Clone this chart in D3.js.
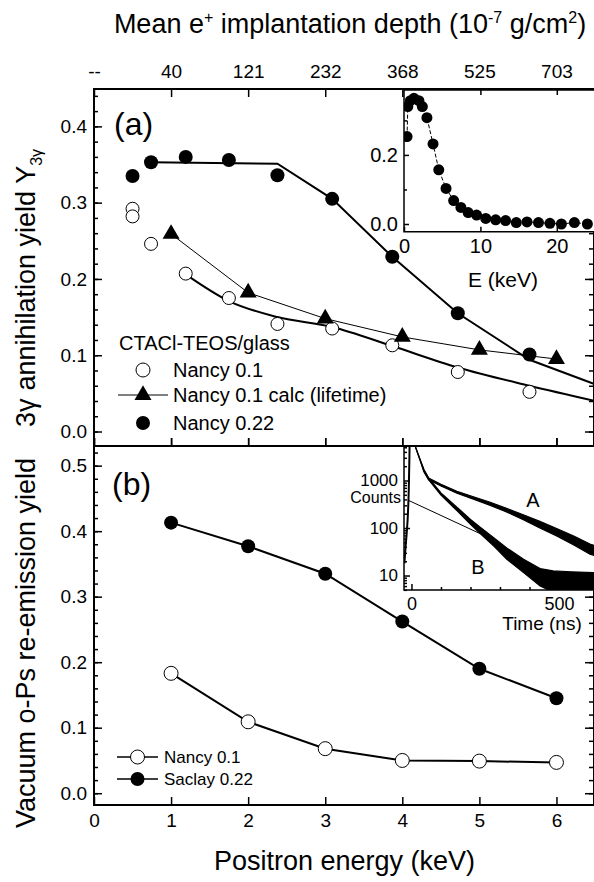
<!DOCTYPE html>
<html>
<head>
<meta charset="utf-8">
<script src="https://cdn.jsdelivr.net/npm/d3@7"></script>
<style>
  body { margin: 0; background: #fff; }
  text { font-family: "Liberation Sans", Arial, Helvetica, sans-serif; }
</style>
</head>
<body>
<div id="chart-area"></div>
<script>
// energy axis (shared) and top axis labels
var energyTicks = [0, 1, 2, 3, 4, 5, 6]
var depthLabels = ["--", "40", "121", "232", "368", "525", "703"]

// panel (a) : 3 gamma yield
var nancy01E = [0.5, 0.5, 0.74, 1.19, 1.75, 2.38, 3.09, 3.87, 4.72, 5.65]
var nancy01Y = [0.292, 0.282, 0.246, 0.207, 0.175, 0.141, 0.135, 0.113, 0.078, 0.052]
var nancy01FitE = [1.19, 1.75, 2.38, 3.09, 3.87, 4.72, 5.65, 6.5]
var nancy01FitY = [0.206, 0.171, 0.150, 0.137, 0.112, 0.084, 0.060, 0.040]
var calcE = [1, 2, 3, 4, 5, 6]
var calcY = [0.259, 0.182, 0.148, 0.124, 0.107, 0.095]
var nancy022E = [0.5, 0.74, 1.19, 1.75, 2.38, 3.09, 3.87, 4.72, 5.65]
var nancy022Y = [0.335, 0.353, 0.360, 0.356, 0.336, 0.305, 0.229, 0.155, 0.101]
var nancy022LineE = [0.74, 2.38, 3.09, 3.87, 4.72, 5.65, 6.5]
var nancy022LineY = [0.353, 0.351, 0.305, 0.229, 0.155, 0.094, 0.062]

// inset (a) : full energy scan
var insetE = [0.4, 0.5, 0.83, 1.3, 1.95, 2.4, 3.0, 3.8, 4.55, 5.5, 6.5, 7.45, 8.4, 9.5, 10.7, 12.0, 13.3, 14.7, 16.1, 17.6, 19.1, 20.6, 22.3, 24.0]
var insetY = [0.253, 0.340, 0.357, 0.364, 0.357, 0.340, 0.308, 0.232, 0.157, 0.103, 0.068, 0.048, 0.033, 0.026, 0.016, 0.012, 0.010, 0.004, 0.006, 0.004, 0.002, 0.000, 0.004, 0.000]

// panel (b) : re-emission yield
var bE = [1, 2, 3, 4, 5, 6]
var nancyB = [0.183, 0.109, 0.068, 0.050, 0.049, 0.047]
var saclayB = [0.413, 0.377, 0.335, 0.262, 0.190, 0.145]

// inset (b) : lifetime spectra (noise band read as low / high envelope)
var promptT = [-24, -20, -16, -12, -9, -7, -6]
var promptC = [18, 40, 80, 200, 700, 3000, 8000]
var specAT = [10, 14, 30, 42, 58, 100, 154, 210, 267, 320, 379, 435, 492, 550, 605, 625]
var specALo = [9000, 4950, 2600, 1550, 1040, 770, 540, 405, 300, 220, 150, 100, 68, 44, 28, 26]
var specAHi = [9000, 5000, 2660, 1700, 1130, 830, 595, 455, 348, 262, 190, 138, 98, 68, 46, 42]
var specBT = [10, 14, 30, 42, 58, 100, 154, 200, 233, 280, 323, 380, 436, 480, 540, 625]
var specBLo = [9000, 4950, 2600, 1550, 1040, 490, 232, 120, 76, 41, 22, 11.5, 6, 4.5, 4, 4]
var specBHi = [9000, 5000, 2660, 1700, 1130, 550, 275, 152, 104, 62, 38, 22, 14, 12.5, 12, 11.5]
var fitT = [-9, 233]
var fitC = [379, 76]

var W = 594, H = 882
var font = "'Liberation Sans', Arial, Helvetica, sans-serif"

var svg = d3.select("#chart-area").append("svg")
  .attr("width", W)
  .attr("height", H)

var pLeft = 94, pRight = 595, pTop = 89, pMid = 446, pBottom = 805

var x = d3.scaleLinear().domain([0, 6.5]).range([pLeft, pRight])
var ya = d3.scaleLinear().domain([-0.019, 0.449]).range([pMid, pTop])
var yb = d3.scaleLinear().domain([-0.018, 0.53]).range([pBottom, pMid])

function zip(a, b) { return a.map(function (d, i) { return [d, b[i]] }) }

function styleAxis(g, size) {
  g.select(".domain").remove()
  g.selectAll("line").attr("stroke", "#000").attr("stroke-width", 1.5)
  g.selectAll("text").attr("font-family", font).attr("font-size", size).attr("fill", "#000")
}

function steps(a, b, s) { var r = []; for (var v = a; v <= b + 1e-9; v += s) r.push(+v.toFixed(4)); return r }

// ---- y axes
function yAxes(y, maxMajor, maxMinor) {
  var majors = steps(0, maxMajor, 0.1)
  var minors = steps(0, maxMinor, 0.02)
  svg.append("g").attr("transform", "translate(" + pLeft + ",0)")
    .call(d3.axisLeft(y).tickValues(minors).tickSize(-4).tickFormat(""))
    .call(styleAxis, 19)
  svg.append("g").attr("transform", "translate(" + pLeft + ",0)")
    .call(d3.axisLeft(y).tickValues(majors).tickSize(-8).tickPadding(7).tickFormat(d3.format(".1f")))
    .call(styleAxis, 19)
  svg.append("g").attr("transform", "translate(" + (pRight - 2) + ",0)")
    .call(d3.axisRight(y).tickValues(minors).tickSize(-4).tickFormat(""))
    .call(styleAxis, 19)
  svg.append("g").attr("transform", "translate(" + (pRight - 2) + ",0)")
    .call(d3.axisRight(y).tickValues(majors).tickSize(-8).tickFormat(""))
    .call(styleAxis, 19)
}
yAxes(ya, 0.4, 0.44)
yAxes(yb, 0.5, 0.52)

// ---- x axes
svg.append("g").attr("transform", "translate(0," + pTop + ")")
  .call(d3.axisTop(x).tickValues(energyTicks).tickSize(-8).tickPadding(11)
    .tickFormat(function (d) { return depthLabels[d] }))
  .call(styleAxis, 19)
svg.append("g").attr("transform", "translate(0," + pMid + ")")
  .call(d3.axisTop(x).tickValues(energyTicks).tickSize(8).tickFormat(""))
  .call(styleAxis, 19)
svg.append("g").attr("transform", "translate(0," + pMid + ")")
  .call(d3.axisBottom(x).tickValues(energyTicks).tickSize(-8).tickFormat(""))
  .call(styleAxis, 19)
svg.append("g").attr("transform", "translate(0," + pBottom + ")")
  .call(d3.axisBottom(x).tickValues(energyTicks).tickSize(-8).tickPadding(9).tickFormat(d3.format("d")))
  .call(styleAxis, 19)

// frame
svg.append("path")
  .attr("d", "M" + pLeft + "," + pTop + "H" + (pRight - 1) + "V" + pBottom + "H" + pLeft + "Z M" + pLeft + "," + pMid + "H" + (pRight - 1))
  .attr("fill", "none").attr("stroke", "#000").attr("stroke-width", 2)

// clip
var defs = svg.append("defs")
defs.append("clipPath").attr("id", "clipA").append("rect")
  .attr("x", pLeft).attr("y", pTop).attr("width", pRight - pLeft).attr("height", pMid - pTop)
defs.append("clipPath").attr("id", "clipB").append("rect")
  .attr("x", pLeft).attr("y", pMid).attr("width", pRight - pLeft).attr("height", pBottom - pMid)

// ---- panel (a) data
var gA = svg.append("g").attr("clip-path", "url(#clipA)")
var lineA = d3.line().x(function (d) { return x(d[0]) }).y(function (d) { return ya(d[1]) })

gA.append("path").datum(zip(nancy01FitE, nancy01FitY))
  .attr("d", lineA.curve(d3.curveMonotoneX)).attr("fill", "none").attr("stroke", "#000").attr("stroke-width", 2)
lineA.curve(d3.curveLinear)
gA.append("path").datum(zip(nancy022LineE, nancy022LineY))
  .attr("d", lineA).attr("fill", "none").attr("stroke", "#000").attr("stroke-width", 2)
gA.append("path").datum(zip(calcE, calcY))
  .attr("d", lineA).attr("fill", "none").attr("stroke", "#000").attr("stroke-width", 1)

gA.selectAll(".o1").data(zip(nancy01E, nancy01Y)).enter().append("circle")
  .attr("cx", function (d) { return x(d[0]) }).attr("cy", function (d) { return ya(d[1]) })
  .attr("r", 6.5).attr("fill", "#fff").attr("stroke", "#000").attr("stroke-width", 1)
var tri = d3.symbol().type(d3.symbolTriangle).size(125)
gA.selectAll(".tri").data(zip(calcE, calcY)).enter().append("path")
  .attr("d", tri).attr("transform", function (d) { return "translate(" + x(d[0]) + "," + ya(d[1]) + ")" })
  .attr("fill", "#000")
gA.selectAll(".f1").data(zip(nancy022E, nancy022Y)).enter().append("circle")
  .attr("cx", function (d) { return x(d[0]) }).attr("cy", function (d) { return ya(d[1]) })
  .attr("r", 7).attr("fill", "#000")

// legend (a)
svg.append("text").attr("x", 119).attr("y", 350).attr("font-size", 20).text("CTACl-TEOS/glass")
svg.append("circle").attr("cx", 143).attr("cy", 370).attr("r", 7).attr("fill", "#fff").attr("stroke", "#000")
svg.append("text").attr("x", 173).attr("y", 377).attr("font-size", 20).text("Nancy 0.1")
svg.append("line").attr("x1", 118).attr("x2", 168).attr("y1", 395).attr("y2", 395).attr("stroke", "#000")
svg.append("path").attr("d", tri).attr("transform", "translate(143,395)").attr("fill", "#000")
svg.append("text").attr("x", 173).attr("y", 402).attr("font-size", 20).text("Nancy 0.1 calc (lifetime)")
svg.append("circle").attr("cx", 143).attr("cy", 423).attr("r", 7).attr("fill", "#000")
svg.append("text").attr("x", 173).attr("y", 430).attr("font-size", 20).text("Nancy 0.22")

svg.append("text").attr("x", 114).attr("y", 135).attr("font-size", 32).text("(a)")
svg.append("text").attr("x", 112).attr("y", 495).attr("font-size", 32).text("(b)")

// ---- panel (b) data
var gB = svg.append("g").attr("clip-path", "url(#clipB)")
var lineB = d3.line().x(function (d) { return x(d[0]) }).y(function (d) { return yb(d[1]) })
gB.append("path").datum(zip(bE, nancyB)).attr("d", lineB).attr("fill", "none").attr("stroke", "#000").attr("stroke-width", 2)
gB.append("path").datum(zip(bE, saclayB)).attr("d", lineB).attr("fill", "none").attr("stroke", "#000").attr("stroke-width", 2)
gB.selectAll(".o2").data(zip(bE, nancyB)).enter().append("circle")
  .attr("cx", function (d) { return x(d[0]) }).attr("cy", function (d) { return yb(d[1]) })
  .attr("r", 7).attr("fill", "#fff").attr("stroke", "#000").attr("stroke-width", 1)
gB.selectAll(".f2").data(zip(bE, saclayB)).enter().append("circle")
  .attr("cx", function (d) { return x(d[0]) }).attr("cy", function (d) { return yb(d[1]) })
  .attr("r", 7).attr("fill", "#000")

// legend (b)
svg.append("line").attr("x1", 117).attr("x2", 158).attr("y1", 757).attr("y2", 757).attr("stroke", "#000").attr("stroke-width", 1.5)
svg.append("circle").attr("cx", 137.5).attr("cy", 757).attr("r", 7).attr("fill", "#fff").attr("stroke", "#000")
svg.append("text").attr("x", 164).attr("y", 763).attr("font-size", 17).text("Nancy 0.1")
svg.append("line").attr("x1", 117).attr("x2", 158).attr("y1", 779).attr("y2", 779).attr("stroke", "#000").attr("stroke-width", 1.5)
svg.append("circle").attr("cx", 137.5).attr("cy", 779).attr("r", 7).attr("fill", "#000")
svg.append("text").attr("x", 164).attr("y", 785).attr("font-size", 17).text("Saclay 0.22")

// ---- inset (a)
var iaL = 404, iaT = 90, iaB = 231.7
var xi = d3.scaleLinear().domain([0, 25]).range([iaL, 595])
var yi = d3.scaleLinear().domain([-0.0223, 0.388]).range([iaB, iaT])
svg.append("rect").attr("x", iaL).attr("y", iaT).attr("width", 595 - iaL).attr("height", iaB - iaT).attr("fill", "#fff")
defs.append("clipPath").attr("id", "clipIA").append("rect")
  .attr("x", iaL).attr("y", iaT).attr("width", 595 - iaL).attr("height", iaB - iaT)
svg.append("g").attr("transform", "translate(" + iaL + ",0)")
  .call(d3.axisLeft(yi).tickValues([0, 0.2]).tickSize(-5).tickPadding(6).tickFormat(d3.format(".1f")))
  .call(styleAxis, 20)
svg.append("g").attr("transform", "translate(" + iaL + ",0)")
  .call(d3.axisLeft(yi).tickValues([0.1, 0.3]).tickSize(-3).tickFormat(""))
  .call(styleAxis, 20)
svg.append("g").attr("transform", "translate(0," + iaB + ")")
  .call(d3.axisBottom(xi).tickValues([0, 10, 20]).tickSize(-5).tickPadding(7).tickFormat(d3.format("d")))
  .call(styleAxis, 20)
svg.append("g").attr("transform", "translate(0," + iaT + ")")
  .call(d3.axisTop(xi).tickValues([10, 20]).tickSize(-5).tickFormat(""))
  .call(styleAxis, 20)
svg.append("path").attr("d", "M595," + iaT + "H" + iaL + "V" + iaB + "H595")
  .attr("fill", "none").attr("stroke", "#000").attr("stroke-width", 1.5)
var gIA = svg.append("g").attr("clip-path", "url(#clipIA)")
gIA.append("path").datum(zip(insetE, insetY))
  .attr("d", d3.line().x(function (d) { return xi(d[0]) }).y(function (d) { return yi(d[1]) }))
  .attr("fill", "none").attr("stroke", "#000").attr("stroke-width", 1).attr("stroke-dasharray", "4,2")
gIA.selectAll("circle").data(zip(insetE, insetY)).enter().append("circle")
  .attr("cx", function (d) { return xi(d[0]) }).attr("cy", function (d) { return yi(d[1]) })
  .attr("r", 5.5).attr("fill", "#000")
svg.append("text").attr("x", 503).attr("y", 287).attr("text-anchor", "middle").attr("font-size", 21).text("E (keV)")

// ---- inset (b)
var ibL = 404, ibT = pMid, ibB = 590
var xt = d3.scaleLinear().domain([-25.3, 622]).range([ibL, 595])
var yc = d3.scaleLog().domain([4.96, 5320]).range([ibB, ibT])
svg.append("rect").attr("x", ibL).attr("y", ibT + 1).attr("width", 595 - ibL).attr("height", ibB - ibT - 1).attr("fill", "#fff")
defs.append("clipPath").attr("id", "clipIB").append("rect")
  .attr("x", ibL).attr("y", ibT).attr("width", 595 - ibL).attr("height", ibB - ibT)
var logMinor = []
;[10, 100, 1000].forEach(function (p) { for (var k = 2; k <= 9; k++) if (p * k / 10 >= 5) logMinor.push(p * k / 10) })
;[2000, 3000, 4000, 5000].forEach(function (v) { logMinor.push(v) })
svg.append("g").attr("transform", "translate(" + ibL + ",0)")
  .call(d3.axisLeft(yc).tickValues(logMinor).tickSize(-3).tickFormat(""))
  .call(styleAxis, 17)
svg.append("g").attr("transform", "translate(" + ibL + ",0)")
  .call(d3.axisLeft(yc).tickValues([10, 100, 1000]).tickSize(-6).tickPadding(6).tickFormat(d3.format("d")))
  .call(styleAxis, 17)
svg.append("g").attr("transform", "translate(0," + ibB + ")")
  .call(d3.axisBottom(xt).tickValues([100, 200, 300, 400, 600]).tickSize(-3).tickFormat(""))
  .call(styleAxis, 18)
svg.append("g").attr("transform", "translate(0," + ibB + ")")
  .call(d3.axisBottom(xt).tickValues([0, 500]).tickSize(-6).tickPadding(7).tickFormat(d3.format("d")))
  .call(styleAxis, 18)
svg.append("path").attr("d", "M" + ibL + "," + ibT + "V" + ibB + "H595")
  .attr("fill", "none").attr("stroke", "#000").attr("stroke-width", 1.5)

var gIB = svg.append("g").attr("clip-path", "url(#clipIB)")
var band = d3.area().x(function (d) { return xt(d[0]) })
  .y0(function (d) { return yc(d[1]) }).y1(function (d) { return yc(d[2]) })
gIB.append("path").datum(specAT.map(function (t, i) { return [t, specALo[i], specAHi[i]] }))
  .attr("d", band).attr("fill", "#000").attr("stroke", "#000").attr("stroke-width", 1.2)
gIB.append("path").datum(specBT.map(function (t, i) { return [t, specBLo[i], specBHi[i]] }))
  .attr("d", band).attr("fill", "#000").attr("stroke", "#000").attr("stroke-width", 1.2)
var lineT = d3.line().x(function (d) { return xt(d[0]) }).y(function (d) { return yc(d[1]) })
gIB.append("path").datum(zip(promptT, promptC)).attr("d", lineT.curve(d3.curveMonotoneX))
  .attr("fill", "none").attr("stroke", "#000").attr("stroke-width", 2)
gIB.append("path").datum(zip(fitT, fitC)).attr("d", lineT.curve(d3.curveLinear))
  .attr("fill", "none").attr("stroke", "#000").attr("stroke-width", 1)

svg.append("text").attr("x", 401).attr("y", 503).attr("text-anchor", "end").attr("font-size", 16).text("Counts")
svg.append("text").attr("x", 533).attr("y", 507).attr("text-anchor", "middle").attr("font-size", 20).text("A")
svg.append("text").attr("x", 478).attr("y", 574).attr("text-anchor", "middle").attr("font-size", 20).text("B")
svg.append("text").attr("x", 542).attr("y", 630).attr("text-anchor", "middle").attr("font-size", 19).text("Time (ns)")

// ---- titles
var tt = svg.append("text").attr("x", 350).attr("y", 33).attr("text-anchor", "middle").attr("font-size", 27)
tt.append("tspan").text("Mean e")
tt.append("tspan").attr("dy", -10).attr("font-size", 16).text("+")
tt.append("tspan").attr("dy", 10).text(" implantation depth (10")
tt.append("tspan").attr("dy", -10).attr("font-size", 16).text("-7")
tt.append("tspan").attr("dy", 10).text(" g/cm")
tt.append("tspan").attr("dy", -10).attr("font-size", 16).text("2")
tt.append("tspan").attr("dy", 10).text(")")

svg.append("text").attr("x", (pLeft + pRight) / 2).attr("y", 870).attr("text-anchor", "middle")
  .attr("font-size", 27).text("Positron energy (keV)")

var ta = svg.append("text").attr("transform", "translate(35,288) rotate(-90)").attr("text-anchor", "middle").attr("font-size", 27)
ta.append("tspan").text("3γ")
ta.append("tspan").attr("dx", 8).text("annihilation yield Y")
ta.append("tspan").attr("dy", 7).attr("font-size", 16).text("3γ")

svg.append("text").attr("transform", "translate(35,643) rotate(-90)").attr("text-anchor", "middle")
  .attr("font-size", 27).text("Vacuum o-Ps re-emission yield")
</script>
</body>
</html>
